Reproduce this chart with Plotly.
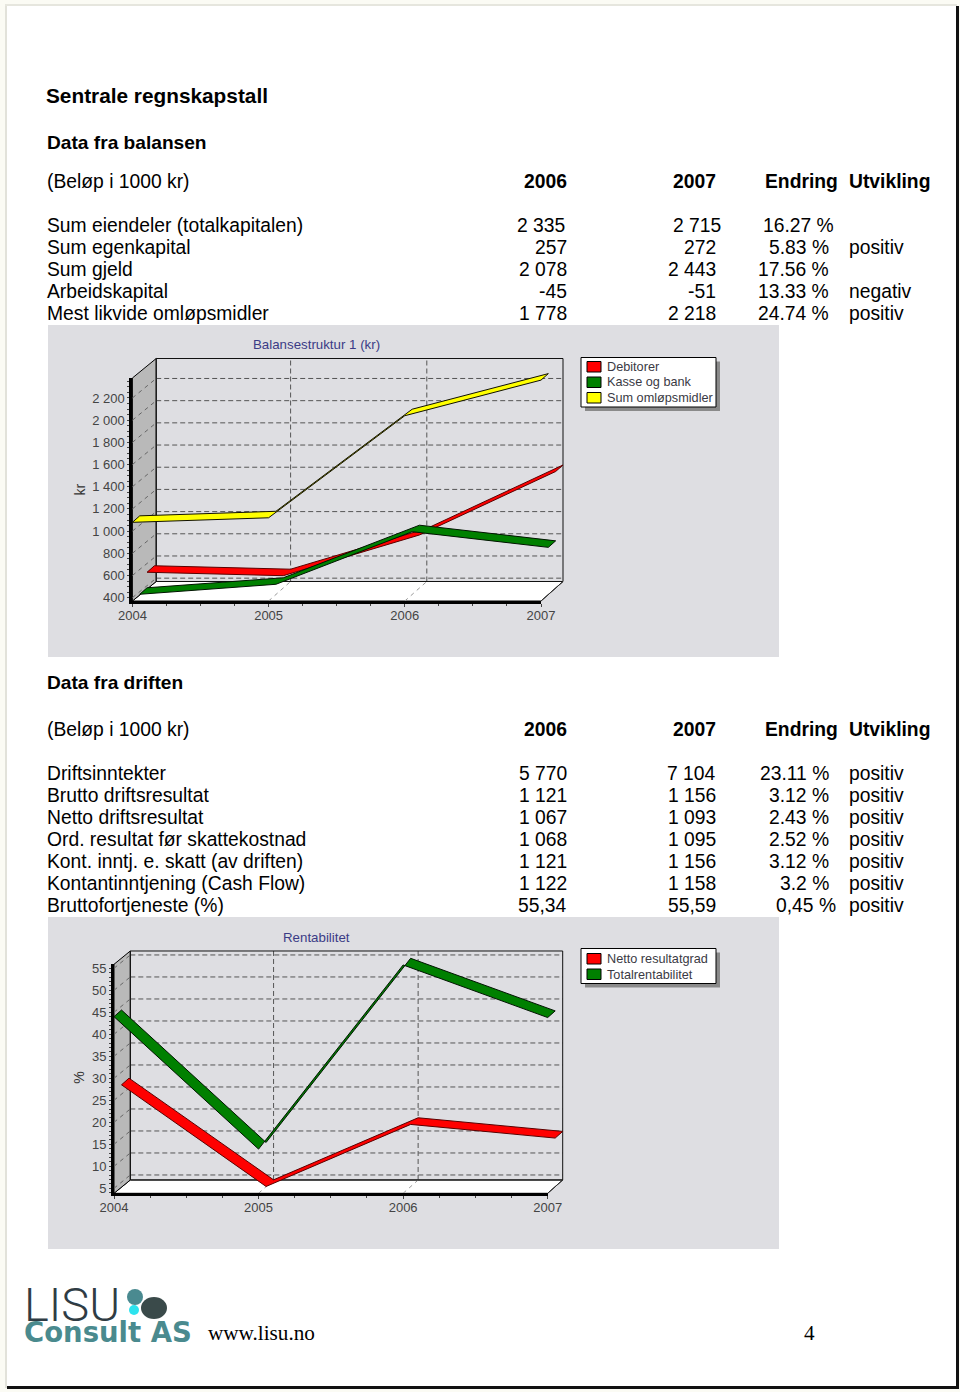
import plotly.graph_objects as go

# ---------- DATA ----------
title_main = "Sentrale regnskapstall"
section_a = "Data fra balansen"
section_b = "Data fra driften"
unit_label = "(Beløp i 1000 kr)"
headers = ["2006", "2007", "Endring", "Utvikling"]

bal_names = ["Sum eiendeler (totalkapitalen)", "Sum egenkapital", "Sum gjeld", "Arbeidskapital", "Mest likvide omløpsmidler"]
bal_2006 = ["2 335", "257", "2 078", "-45", "1 778"]
bal_2007 = ["2 715", "272", "2 443", "-51", "2 218"]
bal_change = ["16.27 %", "5.83 %", "17.56 %", "13.33 %", "24.74 %"]
bal_trend = ["", "positiv", "", "negativ", "positiv"]

drift_names = ["Driftsinntekter", "Brutto driftsresultat", "Netto driftsresultat", "Ord. resultat før skattekostnad",
               "Kont. inntj. e. skatt (av driften)", "Kontantinntjening (Cash Flow)", "Bruttofortjeneste (%)"]
drift_2006 = ["5 770", "1 121", "1 067", "1 068", "1 121", "1 122", "55,34"]
drift_2007 = ["7 104", "1 156", "1 093", "1 095", "1 156", "1 158", "55,59"]
drift_change = ["23.11 %", "3.12 %", "2.43 %", "2.52 %", "3.12 %", "3.2 %", "0,45 %"]
drift_trend = ["positiv"] * 7

years = [2004, 2005, 2006, 2007]

c1_title = "Balansestruktur 1 (kr)"
c1_debitorer = [512, 481, 848, 1420]
c1_kasse = [372, 462, 936, 795]
c1_sum = [1079, 1120, 2040, 2361]
c1_ticks = [400, 600, 800, 1000, 1200, 1400, 1600, 1800, 2000, 2200]
c1_ticktext = ["400", "600", "800", "1 000", "1 200", "1 400", "1 600", "1 800", "2 000", "2 200"]
c1_legend = ["Debitorer", "Kasse og bank", "Sum omløpsmidler"]

c2_title = "Rentabilitet"
c2_netto = [27, 3.9, 18, 14.9]
c2_total = [44, 13.9, 55.75, 43.8]
c2_ticks = [5, 10, 15, 20, 25, 30, 35, 40, 45, 50, 55]
c2_legend = ["Netto resultatgrad", "Totalrentabilitet"]

# ---------- HELPERS ----------
W, H = 960, 1392
FONT = "Liberation Sans"
RED, GREEN, YELLOW = "#ff0000", "#008000", "#ffff00"
BOX = "#dedee2"
BODY = 19.3
shapes, annos = [], []


def px(x):
    return x / W


def py(y):
    return 1 - y / H


def text(x, y, s, size=BODY, bold=False, anchor="left", color="#000000", family=FONT, angle=0, weight=None):
    f = dict(size=size, color=color, family=family)
    if weight:
        f["weight"] = weight
    annos.append(dict(x=px(x), y=py(y), xref="paper", yref="paper", text=f"<b>{s}</b>" if bold else s,
                      showarrow=False, xanchor=anchor, yanchor="middle", textangle=angle,
                      font=f, borderpad=0, borderwidth=0))


def rect(x0, y0, x1, y1, fill, line=None, lw=1):
    shapes.append(dict(type="rect", xref="paper", yref="paper", x0=px(x0), x1=px(x1), y0=py(y0), y1=py(y1),
                       fillcolor=fill, line=dict(color=line or fill, width=lw if line else 0), layer="below"))


def circle(x0, y0, x1, y1, fill):
    shapes.append(dict(type="circle", xref="paper", yref="paper", x0=px(x0), x1=px(x1), y0=py(y0), y1=py(y1),
                       fillcolor=fill, line=dict(width=0), layer="below"))


# ---------- PAGE ----------
rect(7, 6, 957, 1387, "#ffffff")
rect(5, 4, 7, 1388, "#e2e2da")
rect(5, 4, 957, 6, "#e6e6de")
rect(956, 6, 959, 1389, "#111111")
rect(7, 1386, 959, 1389, "#111111")

text(46, 95, title_main, size=20.8, bold=True)
text(47, 142, section_a, size=19.15, bold=True)
text(47, 683, section_b, size=19.15, bold=True)


def table(y_head, y_rows, names, v06, v07, chg, trend, r06, r07, rchg):
    text(47, y_head, unit_label)
    text(567, y_head, headers[0], bold=True, anchor="right")
    text(716, y_head, headers[1], bold=True, anchor="right")
    text(838, y_head, headers[2], bold=True, anchor="right")
    text(849, y_head, headers[3], bold=True)
    for i, n in enumerate(names):
        y = y_rows + 22 * i
        text(47, y, n)
        text(r06[i], y, v06[i], anchor="right")
        text(r07[i], y, v07[i], anchor="right")
        text(rchg[i], y, chg[i], anchor="right")
        if trend[i]:
            text(849, y, trend[i])


table(181.5, 225.4, bal_names, bal_2006, bal_2007, bal_change, bal_trend,
      [565, 567, 567, 567, 567], [721, 716, 716, 716, 716], [834, 829, 829, 829, 829])
table(729.4, 773.4, drift_names, drift_2006, drift_2007, drift_change, drift_trend,
      [567] * 7, [716] * 7, [829] * 6 + [836])

fig = go.Figure()
DASH = "5px,3px"
layout_axes = {}


def add_line(xa, ya, xs, ys, color="#000000", width=1, dash=None):
    fig.add_trace(go.Scatter(x=xs, y=ys, xaxis=xa, yaxis=ya, mode="lines", hoverinfo="skip",
                             showlegend=False, line=dict(color=color, width=width, dash=dash)))


def add_poly(xa, ya, xs, ys, fill, line="#000000", width=1):
    fig.add_trace(go.Scatter(x=xs, y=ys, xaxis=xa, yaxis=ya, mode="lines", fill="toself", fillcolor=fill,
                             hoverinfo="skip", showlegend=False, line=dict(color=line, width=width)))


def chart(axn, box, frame, ylim, depth_px, wall_px, ticks, ticktext, ydminor, series, legend_top, legend_h,
          swatch_ys, names, title, title_y, ylabel):
    """frame = px (left, right, top, bottom) of the front axes; the marks live on a hidden
    wider axis pair that shares the front axes' scale, so the 3-D depth can leave the frame."""
    l, r, t, b = frame
    y0, y1 = ylim
    x0, x1 = years[0], years[-1]
    sx = (r - l) / (x1 - x0)
    sy = (b - t) / (y1 - y0)
    ddx, ddy, wall_dx = depth_px[0] / sx, depth_px[1] / sy, wall_px / sx
    ml, mr, mt, mb = 10, 40, 40, 10
    hx, hy = ("x" if axn == 1 else f"x{axn}"), ("y" if axn == 1 else f"y{axn}")
    fn = axn + 2
    layout_axes["xaxis" if axn == 1 else f"xaxis{axn}"] = dict(
        visible=False, domain=[px(l - ml), px(r + mr)], range=[x0 - ml / sx, x1 + mr / sx], anchor=hy)
    layout_axes["yaxis" if axn == 1 else f"yaxis{axn}"] = dict(
        visible=False, domain=[py(b + mb), py(t - mt)], range=[y0 - mb / sy, y1 + mt / sy], anchor=hx)
    tf = dict(family=FONT, size=13, color="#444444")
    layout_axes[f"xaxis{fn}"] = dict(
        domain=[px(l), px(r)], range=[x0, x1], anchor=f"y{fn}", tickvals=years, ticktext=[str(v) for v in years],
        showgrid=False, zeroline=False, showline=True, linewidth=3, linecolor="#000000", ticks="outside", ticklen=3,
        tickwidth=1, tickcolor="#444444", tickfont=tf, ticklabelstandoff=-3,
        minor=dict(ticks="outside", ticklen=2, tickwidth=1, tickcolor="#444444", dtick=0.25, tick0=x0))
    layout_axes[f"yaxis{fn}"] = dict(
        domain=[py(b), py(t)], range=[y0, y1], anchor=f"x{fn}", tickvals=ticks, ticktext=ticktext,
        showgrid=False, zeroline=False, showline=True, linewidth=3, linecolor="#000000", ticks="outside", ticklen=2,
        tickwidth=1, tickcolor="#444444", tickfont=tf,
        minor=dict(ticks="outside", ticklen=2, tickwidth=1, tickcolor="#444444", dtick=ydminor, tick0=ticks[0]))
    fig.add_trace(go.Scatter(x=[x0], y=[y0], xaxis=f"x{fn}", yaxis=f"y{fn}", mode="lines", hoverinfo="skip",
                             showlegend=False))
    xa, ya = hx, hy
    rect(*box, BOX)
    # floor
    add_poly(xa, ya, [x0, x1, x1 + ddx, x0 + wall_dx, x0], [y0, y0, y0 + ddy, y0 + ddy, y0], "#ffffff")
    # left wall
    add_poly(xa, ya, [x0, x0 + wall_dx, x0 + wall_dx, x0, x0],
             [y0, y0 + ddy, y1 + ddy, y1, y0], "#b9b9b9", width=1)
    # back grid, wall grid
    for v in ticks:
        add_line(xa, ya, [x0 + wall_dx, x1 + ddx], [v + ddy, v + ddy], "#555555", 1, DASH)
        add_line(xa, ya, [x0, x0 + wall_dx], [v, v + ddy], "#666666", 1, "4px,4px")
    for yr in years[1:-1]:
        add_line(xa, ya, [yr + ddx, yr + ddx], [y0 + ddy, y1 + ddy], "#555555", 1, DASH)
        add_line(xa, ya, [yr, yr + ddx], [y0, y0 + ddy], "#999999", 1, "4px,4px")
    # back frame
    add_line(xa, ya, [x0 + wall_dx, x1 + ddx, x1 + ddx, x0 + wall_dx, x0 + wall_dx],
             [y1 + ddy, y1 + ddy, y0 + ddy, y0 + ddy, y1 + ddy], "#111111", 1)
    add_line(xa, ya, [x1, x1 + ddx], [y0, y0 + ddy], "#333333", 1)
    # ribbons, back to front
    n = len(series)
    for k, (vals, fill, edge) in enumerate(series):
        d_near = (n - 1 - k) / n
        d_far = (n - k) / n
        xs = [v + ddx * d_near for v in years] + [v + ddx * d_far for v in reversed(years)]
        ys = [v + ddy * d_near for v in vals] + [v + ddy * d_far for v in reversed(vals)]
        add_poly(xa, ya, xs + xs[:1], ys + ys[:1], fill, edge, 1)
    # legend
    lx0, lx1 = 581, 716
    rect(lx0 + 4, legend_top + 4, lx1 + 4, legend_top + legend_h + 4, "#8a8a8a")
    rect(lx0, legend_top, lx1, legend_top + legend_h, "#ffffff", "#000000", 1)
    ordered = sorted(series, key=lambda s: [RED, GREEN, YELLOW].index(s[1]))
    for (vals, fill, edge), nm, sw in zip(ordered, names, swatch_ys):
        rect(587, sw, 601, sw + 10.5, fill, "#000000", 1)
        text(606.5, sw + 5.5, nm, size=12.7, color="#3a3a44")
    text(316.5, title_y, title, size=13.3, color="#3b3b86", anchor="center")
    text(79, (t + b) / 2 + ylabel[1], ylabel[0], size=14, color="#333333", anchor="center", angle=-90)


chart(1, (48, 325, 779, 657), (132.4, 541, 378, 601), (370, 2380), (22, 19.5), 23.8,
      c1_ticks, c1_ticktext, 50,
      [(c1_debitorer, RED, "#5a0000"), (c1_kasse, GREEN, "#001400"), (c1_sum, YELLOW, "#111100")],
      357.5, 49.5, [361.5, 377, 392.5], c1_legend, c1_title, 345, ("kr", 0))
chart(2, (48, 917, 779, 1249), (114, 547.7, 964.3, 1193.3), (3.86, 55.9), (15, 13.3), 16.3,
      c2_ticks, [str(v) for v in c2_ticks], 1,
      [(c2_netto, RED, "#5a0000"), (c2_total, GREEN, "#001400")],
      948.5, 35, [953.5, 969], c2_legend, c2_title, 937, ("%", -1))

# ---------- FOOTER ----------
text(24, 1304, "LISU", size=47, color="#2f3c44", family="Roboto", weight=300)
text(24, 1331.5, "Consult AS", size=27.5, bold=True, color="#4a8a8e", family="DejaVu Sans")
circle(127, 1289, 143, 1305, "#4a8a90")
circle(129, 1305, 139, 1315, "#2de3ee")
circle(141, 1297, 167, 1319, "#3a4a4a")
text(208, 1333, "www.lisu.no", size=21.2, family="Liberation Serif")
text(804, 1333, "4", size=21.2, family="Liberation Serif")

fig.update_layout(width=W, height=H, margin=dict(l=0, r=0, t=0, b=0, pad=0, autoexpand=False), autosize=False,
                  paper_bgcolor="#fbfbf4", plot_bgcolor="rgba(0,0,0,0)", showlegend=False,
                  shapes=shapes, annotations=annos, hovermode=False, **layout_axes)

fig.write_html("out.html", config=dict(displayModeBar=False),
               post_script="document.body.style.margin='0';document.documentElement.style.overflow='hidden';")
